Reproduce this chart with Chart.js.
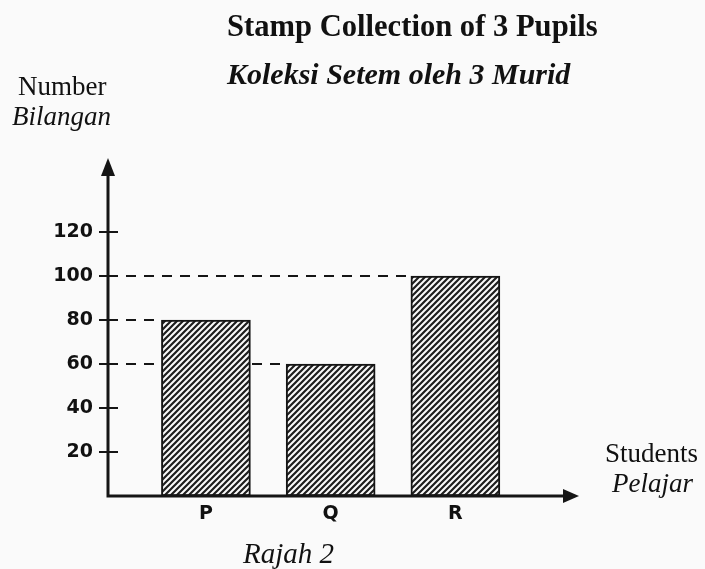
<!DOCTYPE html>
<html>
<head>
<meta charset="utf-8">
<script src="https://cdn.jsdelivr.net/npm/chart.js@4"></script>
<style>
  body { margin: 0; background: #fafafa; }
  #wrap { width: 705px; height: 569px; }
</style>
</head>
<body>
<div id="wrap"><canvas id="stampChart" width="705" height="569"></canvas></div>
<script>
var pupils = ['P', 'Q', 'R'];
var stamps = [80, 60, 100];
var yTicks = [20, 40, 60, 80, 100, 120];

var ink = '#151515';
var paper = '#fafafa';

function makeHatch(){
    var s = 6;
    var c = document.createElement('canvas');
    c.width = s; c.height = s;
    var g = c.getContext('2d');
    g.fillStyle = paper;
    g.fillRect(0, 0, s, s);
    g.strokeStyle = '#1e1e1e';
    g.lineWidth = 2.2;
    g.beginPath();
    g.moveTo(0, s); g.lineTo(s, 0);
    g.moveTo(-1, 1); g.lineTo(1, -1);
    g.moveTo(s - 1, s + 1); g.lineTo(s + 1, s - 1);
    g.stroke();
    return document.getElementById('stampChart').getContext('2d').createPattern(c, 'repeat');
}

// axes, arrows, tick marks, dashed guide lines and loose texts
var decor = {
    id: 'decor',
    beforeDatasetsDraw: function(chart){
        var ctx = chart.ctx, a = chart.chartArea, y = chart.scales.y;
        var meta = chart.getDatasetMeta(0);
        ctx.save();
        ctx.strokeStyle = ink;
        ctx.lineWidth = 2;
        ctx.setLineDash([10, 8]);
        meta.data.forEach(function(bar, i){
            var py = y.getPixelForValue(stamps[i]);
            ctx.beginPath();
            ctx.moveTo(a.left, py);
            ctx.lineTo(bar.x - bar.width / 2, py);
            ctx.stroke();
        });
        ctx.restore();
    },
    afterDraw: function(chart){
        var ctx = chart.ctx, a = chart.chartArea, y = chart.scales.y;
        ctx.save();
        ctx.strokeStyle = ink;
        ctx.fillStyle = ink;
        ctx.lineWidth = 3;
        ctx.beginPath();
        ctx.moveTo(a.left, a.top + 4);
        ctx.lineTo(a.left, a.bottom);
        ctx.lineTo(a.right - 6, a.bottom);
        ctx.stroke();
        // arrow heads
        ctx.beginPath();
        ctx.moveTo(a.left, a.top - 8);
        ctx.lineTo(a.left - 7, a.top + 10);
        ctx.lineTo(a.left + 7, a.top + 10);
        ctx.closePath();
        ctx.fill();
        ctx.beginPath();
        ctx.moveTo(a.right + 2, a.bottom);
        ctx.lineTo(a.right - 14, a.bottom - 7);
        ctx.lineTo(a.right - 14, a.bottom + 7);
        ctx.closePath();
        ctx.fill();
        // tick marks crossing the axis
        ctx.lineWidth = 2;
        yTicks.forEach(function(t){
            var py = y.getPixelForValue(t);
            ctx.beginPath();
            ctx.moveTo(a.left - 9, py);
            ctx.lineTo(a.left + 10, py);
            ctx.stroke();
        });
        // texts
        ctx.fillStyle = '#111';
        ctx.textBaseline = 'alphabetic';
        ctx.textAlign = 'left';
        ctx.font = 'bold 30.6px "Liberation Serif"';
        ctx.fillText('Stamp Collection of 3 Pupils', 227, 36);
        ctx.font = 'italic bold 30px "Liberation Serif"';
        ctx.fillText('Koleksi Setem oleh 3 Murid', 227, 84);
        ctx.font = '27px "Liberation Serif"';
        ctx.fillText('Number', 18, 95);
        ctx.fillText('Students', 605, 462);
        ctx.font = 'italic 27px "Liberation Serif"';
        ctx.fillText('Bilangan', 12, 125);
        ctx.fillText('Pelajar', 612, 492);
        ctx.font = 'italic 29px "Liberation Serif"';
        ctx.fillText('Rajah 2', 243, 563);
        ctx.restore();
    }
};

var ctx = document.getElementById('stampChart');
var stampChart = new Chart(ctx, {
    type: 'bar',
    data: {
        datasets: [{
            label: 'Stamps',
            data: stamps.map(function(v, i){ return {x: i + 1, y: v}; }),
            backgroundColor: makeHatch(),
            borderColor: ink,
            borderWidth: 2,
            borderSkipped: false,
            barThickness: 89
        }]
    },
    plugins: [decor],
    options: {
        responsive: false,
        animation: false,
        devicePixelRatio: 1,
        layout: { padding: { top: 166, right: 128, left: 0, bottom: 0 } },
        plugins: {
            legend: { display: false },
            title: { display: false },
            tooltip: { enabled: false }
        },
        scales: {
            x: {
                type: 'linear',
                offset: false,
                min: 0.215,
                max: 3.975,
                grid: { display: false, drawTicks: false },
                border: { display: false },
                afterBuildTicks: function(s){
                    s.ticks = pupils.map(function(p, i){ return {value: i + 1}; });
                },
                afterFit: function(s){ s.height = 73; },
                ticks: {
                    padding: 7,
                    color: '#111',
                    font: { family: 'DejaVu Sans', weight: 'bold', size: 19 },
                    callback: function(v){ return pupils[v - 1]; }
                }
            },
            y: {
                min: 0,
                max: 150,
                grid: { display: false, drawTicks: false },
                border: { display: false },
                afterBuildTicks: function(s){
                    s.ticks = yTicks.map(function(t){ return {value: t}; });
                },
                afterFit: function(s){ s.width = 108; },
                ticks: {
                    padding: 15,
                    color: '#111',
                    font: { family: 'DejaVu Sans', weight: 'bold', size: 19 }
                }
            }
        }
    }
});
</script>
</body>
</html>
